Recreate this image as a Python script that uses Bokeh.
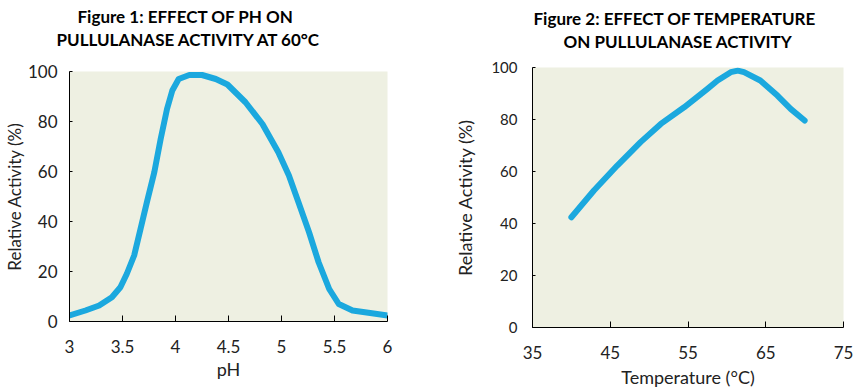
from bokeh.plotting import figure
from bokeh.layouts import row, column
from bokeh.models import FixedTicker, Title, Range1d
from bokeh.embed import file_html
from bokeh.resources import INLINE

# ---- data ----
ph = [3.0, 3.15, 3.28, 3.40, 3.48, 3.54, 3.61, 3.67, 3.73, 3.80, 3.86, 3.92, 3.97,
      4.03, 4.13, 4.25, 4.38, 4.49, 4.66, 4.82, 4.97, 5.07, 5.16, 5.26, 5.35,
      5.45, 5.54, 5.67, 5.82, 6.0]
ph_activity = [2.4, 4.4, 6.4, 9.7, 13.7, 19, 26.4, 37, 47.7, 59.7, 73, 85, 92.4,
               97, 98.6, 98.6, 97, 94.8, 87.7, 79, 67.7, 58.4, 47.7, 35.7, 23.7,
               13, 7, 4.4, 3.5, 2.4]

temp = [40, 42.9, 45.9, 48.9, 51.5, 54.5, 57.5, 58.8, 60.5, 61.4, 62.2, 64.3,
        66.5, 68.2, 70]
temp_activity = [42.4, 52.7, 62.3, 71.3, 78.3, 84.7, 91.8, 95, 98.2, 98.8, 98.2,
                 95, 89.2, 84.1, 79.6]

ph_ticks = [3, 3.5, 4, 4.5, 5, 5.5, 6]
temp_ticks = [35, 45, 55, 65, 75]
y_ticks = [0, 20, 40, 60, 80, 100]

title1 = ["Figure 1: EFFECT OF PH ON", "PULLULANASE ACTIVITY AT 60°C"]
title2 = ["Figure 2: EFFECT OF TEMPERATURE", "ON PULLULANASE ACTIVITY"]

BG = "#EEF0E2"
LINE = "#1BA8DE"
FONT = "Lato"


def style(p, xticks, xlab, xsize, ysize, ystand, xstand, ylabsize):
    p.background_fill_color = BG
    p.border_fill_color = "white"
    p.outline_line_color = None
    p.xgrid.visible = False
    p.ygrid.visible = False
    p.xaxis.ticker = FixedTicker(ticks=xticks)
    p.yaxis.ticker = FixedTicker(ticks=y_ticks)
    p.xaxis.minor_tick_line_color = None
    p.yaxis.minor_tick_line_color = None
    p.xaxis.major_tick_in = 6
    p.xaxis.major_tick_out = 0
    p.yaxis.major_tick_in = 3
    p.yaxis.major_tick_out = 0
    for ax in (p.xaxis, p.yaxis):
        ax.axis_line_color = "black"
        ax.major_tick_line_color = "black"
        ax.major_label_text_font = FONT
        ax.major_label_text_color = "#222222"
        ax.axis_label_text_font = FONT
        ax.axis_label_text_font_style = "normal"
        ax.axis_label_text_color = "#222222"
    p.xaxis.axis_label_text_font_size = "18px"
    p.yaxis.axis_label_text_font_size = ylabsize
    p.xaxis.major_label_text_font_size = xsize
    p.yaxis.major_label_text_font_size = ysize
    p.yaxis.major_label_standoff = ystand
    p.xaxis.major_label_standoff = xstand
    p.xaxis.axis_label = xlab
    p.yaxis.axis_label = "Relative Activity (%)"


def add_titles(p, lines, offsets, gap):
    # spacer between frame and the title lines (first added sits closest to the frame)
    p.add_layout(Title(text=" ", standoff=gap, text_font_size="1px"), "above")
    for txt, off in zip(reversed(lines), reversed(offsets)):
        p.add_layout(Title(text=txt, align="left", offset=off, standoff=0,
                           text_font=FONT, text_font_style="bold",
                           text_font_size="17px", text_color="black"), "above")


# ---- figure 1 ----
p1 = figure(title=None, frame_width=318, frame_height=250, output_backend="svg",
            toolbar_location=None, x_range=Range1d(3, 6), y_range=Range1d(0, 100),
            min_border_left=61, min_border_right=53, min_border_top=71,
            min_border_bottom=55)
style(p1, ph_ticks, "pH", "17px", "17px", 12, 18, "17px")
p1.yaxis.axis_label_standoff = 0
p1.xaxis.axis_label_standoff = 2
p1.line(ph, ph_activity, line_color=LINE, line_width=6, line_join="round", line_cap="round")
add_titles(p1, title1, [8, -13], 19)

# ---- figure 2 ----
p2 = figure(title=None, frame_width=311, frame_height=260, output_backend="svg",
            toolbar_location=None, x_range=Range1d(35, 75), y_range=Range1d(0, 100),
            min_border_left=92, min_border_right=10, min_border_top=67,
            min_border_bottom=57)
style(p2, temp_ticks, "Temperature (°C)", "17px", "15px", 15, 18, "18px")
p2.yaxis.axis_label_standoff = 12
p2.xaxis.axis_label_standoff = 4
p2.line(temp, temp_activity, line_color=LINE, line_width=6, line_join="round", line_cap="round")
add_titles(p2, title2, [1, 31], 13)

layout = row(column(p1), column(p2))
open("out.html", "w").write(file_html(layout, INLINE))
